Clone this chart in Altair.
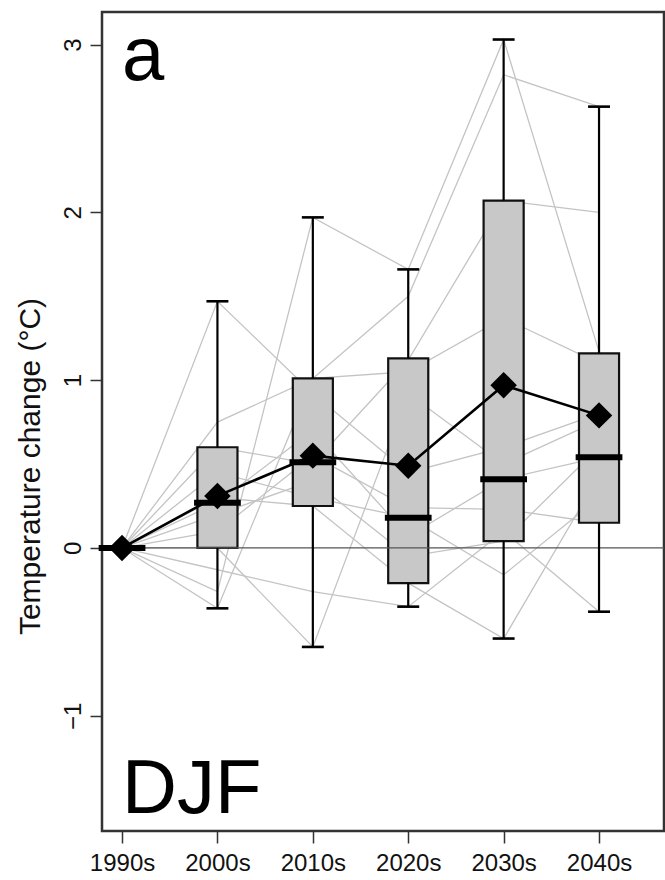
import altair as alt
import pandas as pd

# Decades on the x axis (positions 1..6)
decades = ["1990s", "2000s", "2010s", "2020s", "2030s", "2040s"]
positions = [1, 2, 3, 4, 5, 6]

# Box-plot summary per decade (°C change relative to 1990s)
whisker_low = [0.0, -0.36, -0.59, -0.35, -0.54, -0.38]
box_low = [0.0, 0.00, 0.25, -0.21, 0.04, 0.15]
median = [0.0, 0.27, 0.51, 0.18, 0.41, 0.54]
box_high = [0.0, 0.60, 1.01, 1.13, 2.07, 1.16]
whisker_high = [0.0, 1.47, 1.97, 1.66, 3.03, 2.63]
ensemble_mean = [0.0, 0.31, 0.55, 0.49, 0.97, 0.79]

# Individual model trajectories (one list per model, one value per decade)
models = {
    "m01": [0.0, 1.47, 0.92, 0.45, 0.60, 0.80],
    "m02": [0.0, -0.26, 1.97, 1.66, 3.03, 1.17],
    "m03": [0.0, 0.75, 1.01, 1.50, 2.82, 2.63],
    "m04": [0.0, 0.60, 0.50, 1.12, 2.07, 2.00],
    "m05": [0.0, -0.36, 1.01, 1.05, 1.37, 1.10],
    "m06": [0.0, 0.00, -0.59, 0.92, 0.50, 0.76],
    "m07": [0.0, -0.13, -0.26, -0.35, 0.10, -0.38],
    "m08": [0.0, 0.30, 0.25, -0.21, -0.54, 0.43],
    "m09": [0.0, 0.27, 0.70, 0.07, 0.41, 0.54],
    "m10": [0.0, 0.45, 0.30, 0.18, -0.16, 0.30],
    "m11": [0.0, 0.10, 0.55, 0.24, 0.23, 0.15],
    "m12": [0.0, 0.20, 0.40, -0.05, 0.04, 0.60],
}

# Half widths (in x units) of the box, the median bar and the whisker caps
BOX_HALF = 0.21
MED_HALF = 0.245
CAP_HALF = 0.115

stats = pd.DataFrame({
    "decade": decades,
    "pos": positions,
    "wlo": whisker_low,
    "qlo": box_low,
    "med": median,
    "qhi": box_high,
    "whi": whisker_high,
    "mean": ensemble_mean,
})
stats["box_l"] = stats["pos"] - BOX_HALF
stats["box_r"] = stats["pos"] + BOX_HALF
stats["med_l"] = stats["pos"] - MED_HALF
stats["med_r"] = stats["pos"] + MED_HALF
stats["cap_l"] = stats["pos"] - CAP_HALF
stats["cap_r"] = stats["pos"] + CAP_HALF
boxed = stats[stats["qhi"] > stats["qlo"]]

traces = pd.DataFrame(
    [{"model": m, "pos": p, "value": v}
     for m, vals in models.items() for p, v in zip(positions, vals)]
)

FONT = "Liberation Sans"
x_scale = alt.Scale(domain=[0.79, 6.681], nice=False, zero=False)
y_scale = alt.Scale(domain=[-1.687, 3.194], nice=False, zero=False)

label_expr = "[" + ",".join(f"'{d}'" for d in decades) + "][datum.value - 1]"

x_axis = alt.Axis(
    values=positions, labelExpr=label_expr, title=None, grid=False,
    domain=False, tickSize=12, tickColor="#333", tickWidth=1.5,
    labelFont=FONT, labelFontSize=24, labelColor="#111", labelPadding=8,
)
y_axis = alt.Axis(
    values=[-1, 0, 1, 2, 3], format="d", title="Temperature change (°C)",
    grid=False, domain=False, tickSize=12, tickColor="#333", tickWidth=1.5,
    labelFont=FONT, labelFontSize=24, labelColor="#111", labelAngle=270,
    labelAlign="center", labelBaseline="bottom", labelPadding=5,
    titleFont=FONT, titleFontSize=30, titleFontWeight="normal",
    titleColor="#111", titlePadding=16, titleY=454,
)

X = alt.X("pos:Q", scale=x_scale, axis=x_axis)
Y = alt.Y("value:Q", scale=y_scale, axis=y_axis)

lines = alt.Chart(traces).mark_line(color="#c4c4c4", strokeWidth=1.3).encode(
    x=X, y=Y, detail="model:N"
)

base = alt.Chart(boxed)
boxes = base.mark_rect(fill="#c8c8c8", stroke="#111", strokeWidth=2.2).encode(
    x=alt.X("box_l:Q", scale=x_scale, axis=x_axis), x2="box_r:Q",
    y=alt.Y("qlo:Q", scale=y_scale, axis=y_axis), y2="qhi:Q",
)

zero = alt.Chart(pd.DataFrame({"value": [0.0]})).mark_rule(
    color="#555", strokeWidth=1.3
).encode(y=Y)

wh_upper = base.mark_rule(color="#000", strokeWidth=2.2).encode(
    x=alt.X("pos:Q", scale=x_scale, axis=x_axis),
    y=alt.Y("qhi:Q", scale=y_scale, axis=y_axis), y2="whi:Q",
)
wh_lower = base.mark_rule(color="#000", strokeWidth=2.2).encode(
    x=alt.X("pos:Q", scale=x_scale, axis=x_axis),
    y=alt.Y("wlo:Q", scale=y_scale, axis=y_axis), y2="qlo:Q",
)
cap_hi = base.mark_rule(color="#000", strokeWidth=2.6).encode(
    x=alt.X("cap_l:Q", scale=x_scale, axis=x_axis), x2="cap_r:Q",
    y=alt.Y("whi:Q", scale=y_scale, axis=y_axis),
)
cap_lo = base.mark_rule(color="#000", strokeWidth=2.6).encode(
    x=alt.X("cap_l:Q", scale=x_scale, axis=x_axis), x2="cap_r:Q",
    y=alt.Y("wlo:Q", scale=y_scale, axis=y_axis),
)
medians = alt.Chart(stats).mark_rule(color="#000", strokeWidth=6).encode(
    x=alt.X("med_l:Q", scale=x_scale, axis=x_axis), x2="med_r:Q",
    y=alt.Y("med:Q", scale=y_scale, axis=y_axis),
)

mean_line = alt.Chart(stats).mark_line(color="#000", strokeWidth=2.6).encode(
    x=alt.X("pos:Q", scale=x_scale, axis=x_axis),
    y=alt.Y("mean:Q", scale=y_scale, axis=y_axis),
)
mean_pts = alt.Chart(stats).mark_point(
    shape="diamond", filled=True, color="#000", size=700, opacity=1
).encode(
    x=alt.X("pos:Q", scale=x_scale, axis=x_axis),
    y=alt.Y("mean:Q", scale=y_scale, axis=y_axis),
)

panel = alt.Chart(pd.DataFrame({"t": ["a"]})).mark_text(
    font=FONT, fontSize=76, align="left", baseline="alphabetic", color="#000"
).encode(x=alt.value(20), y=alt.value(68), text="t:N")
season = alt.Chart(pd.DataFrame({"t": ["DJF"]})).mark_text(
    font=FONT, fontSize=76, align="left", baseline="alphabetic", color="#000"
).encode(x=alt.value(20), y=alt.value(801), text="t:N")

chart = alt.layer(
    lines, boxes, zero, wh_upper, wh_lower, cap_hi, cap_lo, medians,
    mean_line, mean_pts, panel, season,
).properties(
    width=562, height=819,
    autosize=alt.AutoSizeParams(type="none"),
    padding={"left": 102, "top": 12, "right": 1, "bottom": 49},
).configure(
    background="white",
    view=alt.ViewConfig(stroke="#333", strokeWidth=2.5),
)

chart.save("out.html", embed_options={"renderer": "svg", "actions": False})
